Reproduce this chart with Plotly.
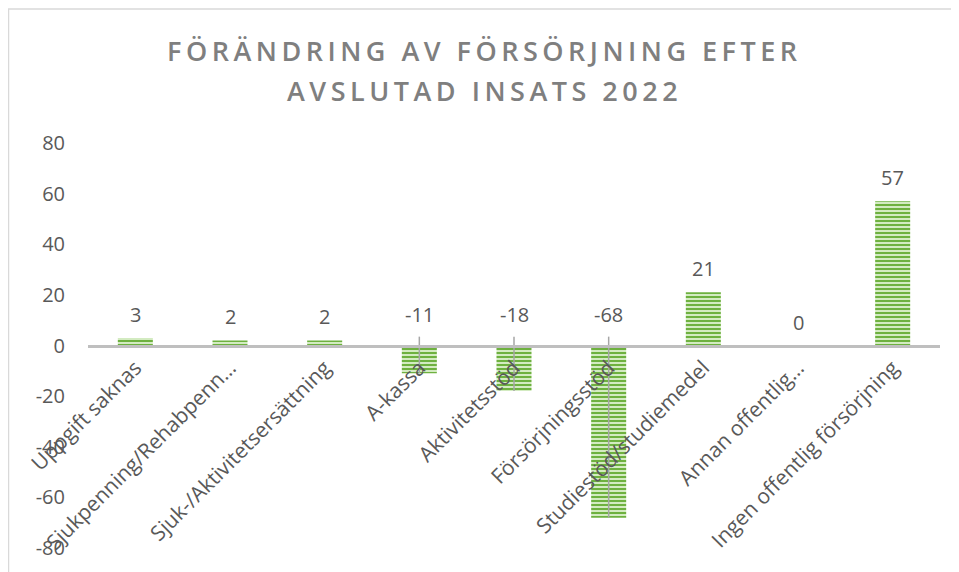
import plotly.graph_objects as go

categories = ["Uppgift saknas", "Sjukpenning/Rehabpenn…", "Sjuk-/Aktivitetsersättning",
              "A-kassa", "Aktivitetsstöd", "Försörjningsstöd", "Studiestöd/studiemedel",
              "Annan offentlig…", "Ingen offentlig försörjning"]
values = [3, 2, 2, -11, -18, -68, 21, 0, 57]
y_ticks = [-80, -60, -40, -20, 0, 20, 40, 60, 80]
y_tick_labels = ["-80", "-60", "-40", "-20", "0", "20", "40", "60", "80"]
title_lines = ["FÖRÄNDRING AV FÖRSÖRJNING EFTER", "AVSLUTAD INSATS 2022"]

# page body has an 8px margin; figure coordinates are offset by it
OFF = 8
W, H = 959, 572
ML, MR, MT, MB = 88 - OFF, 19 + OFF, 143 - OFF, 24 + OFF
plot_h = H - MT - MB
plot_w = W - ML - MR

text_col = "#595959"
font_fam = "Open Sans"

fig = go.Figure()
fig.add_trace(go.Bar(
    x=categories, y=values,
    marker=dict(
        color="#c6e4b0",
        line=dict(width=0),
        pattern=dict(shape="-", fgcolor="#6eb13f", bgcolor="#d3ebc1",
                     size=4, solidity=0.5, fillmode="replace"),
    ),
    hoverinfo="skip",
))

# leader lines for negative values (from label down to bar end)
lx, ly = [], []
for c, v in zip(categories, values):
    if v < 0:
        lx += [c, c, None]
        ly += [3.5, v, None]
fig.add_trace(go.Scatter(x=lx, y=ly, mode="lines",
                         line=dict(color="#a6a6a6", width=1.5),
                         hoverinfo="skip", showlegend=False))

for c, v in zip(categories, values):
    fig.add_annotation(x=c, y=max(v, 0), text=str(v), showarrow=False,
                       yanchor="bottom", yshift=(8 if v >= 0 else 16),
                       font=dict(family=font_fam, size=20, color=text_col))

# title lines (letter-spaced)
for i, line in enumerate(title_lines):
    ypx = 50 - OFF + 40 * i
    fig.add_annotation(
        xref="paper", yref="paper", x=(484 - OFF - ML) / plot_w, y=1 + (MT - ypx) / plot_h,
        text=f"<span style='letter-spacing:4.5px'>{line}</span>", showarrow=False,
        xanchor="center", yanchor="middle",
        font=dict(family=font_fam, size=27, color="#7f7f7f", weight=600))

# chart frame (partially visible)
fig.add_shape(type="rect", xref="paper", yref="paper",
              x0=(0.5 - ML) / plot_w, x1=(W + 20 - ML) / plot_w,
              y0=-0.2, y1=1 + (MT - 1) / plot_h,
              line=dict(color="#d9d9d9", width=1.5), layer="below")

fig.update_layout(
    width=W, height=H,
    margin=dict(l=ML, r=MR, t=MT, b=MB, autoexpand=False),
    paper_bgcolor="white", plot_bgcolor="white",
    showlegend=False, bargap=0.63,
    xaxis=dict(anchor="free", position=0.5, showline=True, linecolor="#bfbfbf",
               linewidth=2.5, ticks="", tickangle=-45, showgrid=False,
               tickfont=dict(family=font_fam, size=21, color=text_col),
               automargin=False, zeroline=False),
    yaxis=dict(range=[-80, 80], tickvals=y_ticks, ticktext=y_tick_labels,
               showgrid=False, zeroline=False,
               showline=False, ticklabelstandoff=22,
               tickfont=dict(family=font_fam, size=20, color=text_col),
               automargin=False),
)

fig.write_html("out.html")
